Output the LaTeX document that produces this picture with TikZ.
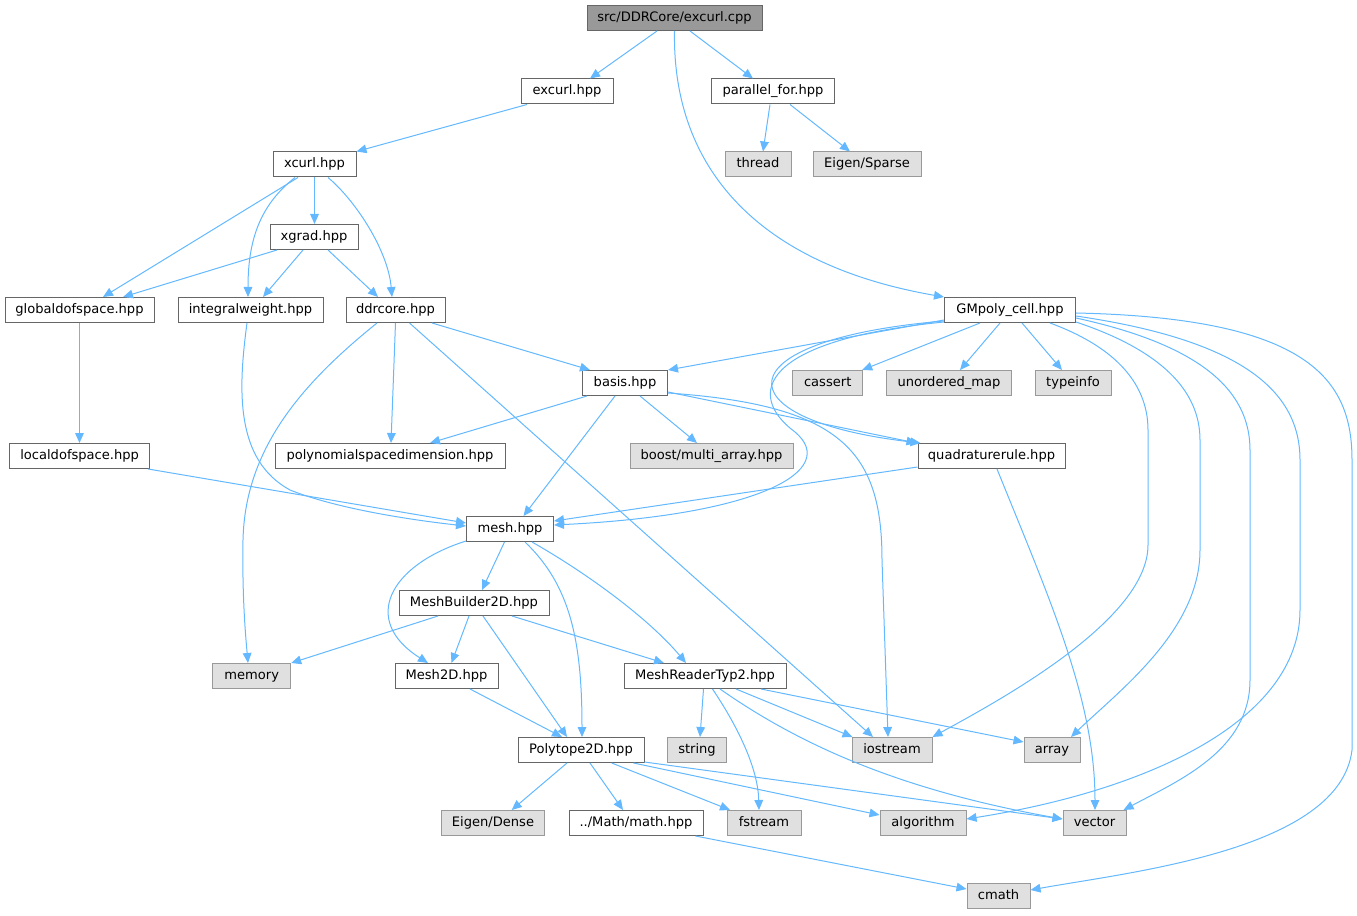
\documentclass[tikz,border=0pt]{standalone}
\usepackage{fontspec}
\setmainfont{DejaVu Sans}
\usetikzlibrary{arrows.meta,calc}
\definecolor{edgec}{HTML}{63B8FF}
\definecolor{bordc}{HTML}{666666}
\definecolor{extb}{HTML}{999999}
\definecolor{extf}{HTML}{E0E0E0}
\definecolor{rootf}{HTML}{999999}
\tikzset{
  nd/.style={draw=bordc, fill=white, line width=0.75pt, rectangle, inner sep=0pt,
    minimum height=25*0.75pt, text height=7.3pt, text depth=2.2pt,
    font=\fontsize{9.8}{12}\selectfont},
  ext/.style={nd, draw=extb, fill=extf},
  rootnd/.style={nd, fill=rootf},
  w/.style={minimum width=#1*0.75pt},
  e/.style={draw=edgec, line width=0.75pt, -{Triangle[length=7.5pt,width=6.5pt]}}
}
\begin{document}
\begin{tikzpicture}[x=0.75pt,y=-0.75pt]
\useasboundingbox (0,0) rectangle (1357,916);
% nodes
\node[rootnd, w=175] (root) at (674.5,18) {src/DDRCore/excurl.cpp};
\node[nd, w=92] (excurl) at (567,91.5) {excurl.hpp};
\node[nd, w=123] (parfor) at (773,91.5) {parallel\_for.hpp};
\node[ext, w=66] (thread) at (758,164.5) {thread};
\node[ext, w=108] (esparse) at (867,164.5) {Eigen/Sparse};
\node[nd, w=83] (xcurl) at (314.5,164.5) {xcurl.hpp};
\node[nd, w=88] (xgrad) at (314,237) {xgrad.hpp};
\node[nd, w=149] (gdof) at (79.5,310) {globaldofspace.hpp};
\node[nd, w=145] (iw) at (250.5,310) {integralweight.hpp};
\node[nd, w=99] (ddr) at (395.5,310) {ddrcore.hpp};
\node[nd, w=131] (gmp) at (1010,310) {GMpoly\_cell.hpp};
\node[nd, w=85] (basis) at (625,383) {basis.hpp};
\node[ext, w=70] (cassert) at (827.7,383) {cassert};
\node[ext, w=125] (umap) at (949,383) {unordered\_map};
\node[ext, w=76] (tinfo) at (1073,383) {typeinfo};
\node[nd, w=140] (ldof) at (79.6,456) {localdofspace.hpp};
\node[nd, w=230] (psd) at (390,456) {polynomialspacedimension.hpp};
\node[ext, w=163] (boost) at (711.5,456) {boost/multi\_array.hpp};
\node[nd, w=147] (quad) at (991.5,456) {quadraturerule.hpp};
\node[nd, w=87] (mesh) at (510,529) {mesh.hpp};
\node[nd, w=150] (mb) at (474,603) {MeshBuilder2D.hpp};
\node[ext, w=78] (memory) at (251.7,676) {memory};
\node[nd, w=103] (m2d) at (446.5,676) {Mesh2D.hpp};
\node[nd, w=162] (mr) at (705,676) {MeshReaderTyp2.hpp};
\node[nd, w=126] (poly) at (581,750) {Polytope2D.hpp};
\node[ext, w=59] (string) at (697,750) {string};
\node[ext, w=80] (iostream) at (892,750) {iostream};
\node[ext, w=56] (array) at (1052,750) {array};
\node[ext, w=103] (edense) at (493,823) {Eigen/Dense};
\node[nd, w=134] (math) at (636,823) {../Math/math.hpp};
\node[ext, w=74] (fstream) at (764,823) {fstream};
\node[ext, w=86] (algo) at (923,823) {algorithm};
\node[ext, w=63] (vector) at (1094.5,823) {vector};
\node[ext, w=63] (cmath) at (998.5,896) {cmath};
% edges
\draw[e] ($(root.south)+(-17.5,0)$) -- ($(excurl.north)+(23,0)$);
\draw[e] ($(root.south)+(15.5,0)$) -- ($(parfor.north)+(-20,0)$);
\draw[e] (root.south) .. controls (672,170) and (760,265) .. (gmp.north west);
\draw[e] ($(excurl.south)+(-40,0)$) -- (xcurl.north east);
\draw[e] ($(parfor.south)+(-3,0)$) -- ($(thread.north)+(5,0)$);
\draw[e] ($(parfor.south)+(17,0)$) -- ($(esparse.north)+(-17,0)$);
\draw[e] (xcurl.south) -- (xcurl.south |- xgrad.north);
\draw[e] ($(xcurl.south)+(-16.5,0)$) -- ($(gdof.north)+(23.5,0)$);
\draw[e] ($(xcurl.south)+(-19.5,0)$) .. controls (260,205) and (248,240) .. ($(iw.north)+(-2.5,0)$);
\draw[e] ($(xcurl.south)+(13.5,0)$) .. controls (355,200) and (388,250) .. ($(ddr.north)+(-3.5,0)$);
\draw[e] ($(xgrad.south)+(-37,0)$) -- ($(gdof.north)+(43.5,0)$);
\draw[e] ($(xgrad.south)+(-11,0)$) -- ($(iw.north)+(12.5,0)$);
\draw[e] ($(xgrad.south)+(14,0)$) -- ($(ddr.north)+(-17.5,0)$);
\draw[e] (gdof.south) -- (gdof.south |- ldof.north);
\draw[e] ($(iw.south)+(-3.5,0)$) .. controls (238,390) and (235,460) .. (290,490) .. controls (340,510) and (420,521) .. ($(mesh.west)+(0,-3)$);
\draw[e] ($(ldof.south east)+(-2,0)$) -- ($(mesh.west)+(0,-6)$);
\draw[e] ($(ddr.south)+(-18.5,0)$) .. controls (300,385) and (245,450) .. (243,540) .. controls (242,600) and (246,640) .. ($(memory.north)+(-3.7,0)$);
\draw[e] (ddr.south) -- ($(psd.north)+(1,0)$);
\draw[e] ($(ddr.south)+(14,0)$) -- ($(iostream.north)+(-19,0)$);
\draw[e] ($(ddr.south)+(36.5,0)$) -- ($(basis.north)+(-35,0)$);
\draw[e] ($(gmp.south west)+(0,-3)$) -- (basis.north east);
\draw[e] ($(gmp.south)+(-30,0)$) -- ($(cassert.north east)+(-1,0)$);
\draw[e] ($(gmp.south)+(-10,0)$) -- ($(umap.north)+(11,0)$);
\draw[e] ($(gmp.south)+(12,0)$) -- ($(tinfo.north)+(-11,0)$);
\draw[e] ($(gmp.south west)+(0,-2)$) .. controls (720,340) and (720,420) .. ($(quad.north west)+(3,0)$);
\draw[e] ($(basis.south east)+(0,-4)$) -- ($(quad.north west)+(-1,0)$);
\draw[e] ($(basis.south east)+(0,-3)$) .. controls (840,405) and (882,450) .. (882,560) -- ($(iostream.north)+(-4,0)$);
\draw[e] ($(basis.south)+(-10,0)$) -- ($(mesh.north)+(13.5,0)$);
\draw[e] ($(basis.south)+(-38,0)$) -- ($(psd.north)+(40,0)$);
\draw[e] ($(basis.south)+(15,0)$) -- ($(boost.north)+(-14.5,0)$);
\draw[e] ($(gmp.south west)+(0,-1)$) .. controls (760,340) and (745,395) .. (795,432) .. controls (840,470) and (760,515) .. ($(mesh.east)+(0,-4)$);
\draw[e] ($(quad.south west)+(0,-2)$) -- ($(mesh.east)+(0,-8)$);
\draw[e] ($(quad.south)+(5.5,0)$) .. controls (1050,600) and (1095,700) .. ($(vector.north)+(0.5,0)$);
\draw[e] ($(gmp.south)+(40,0)$) .. controls (1110,345) and (1148,380) .. (1148,430) -- (1148,545) .. controls (1148,620) and (1000,700) .. (iostream.north east);
\draw[e] ($(gmp.south east)+(0,-1)$) .. controls (1160,350) and (1200,390) .. (1200,440) -- (1200,550) .. controls (1200,630) and (1120,690) .. ($(array.north)+(19,0)$);
\draw[e] ($(gmp.east)+(0,8)$) .. controls (1200,345) and (1250,390) .. (1250,450) -- (1250,680) .. controls (1250,750) and (1180,780) .. ($(vector.north east)+(-3,0)$);
\draw[e] ($(gmp.east)+(0,6)$) .. controls (1240,340) and (1300,390) .. (1300,460) -- (1300,610) .. controls (1300,720) and (1150,790) .. ($(algo.east)+(0,-4)$);
\draw[e] ($(gmp.east)+(0,3)$) .. controls (1310,318) and (1352,380) .. (1352,460) -- (1352,750) .. controls (1340,850) and (1130,872) .. ($(cmath.east)+(0,-6)$);
\draw[e] ($(mesh.south)+(-5.5,0)$) -- ($(mb.north)+(8,0)$);
\draw[e] ($(mesh.south west)+(0,-1)$) .. controls (390,565) and (360,620) .. ($(m2d.north)+(-18.5,0)$);
\draw[e] ($(mesh.south)+(15,0)$) .. controls (570,585) and (582,640) .. ($(poly.north)+(1,0)$);
\draw[e] ($(mesh.south)+(22,0)$) .. controls (590,575) and (650,620) .. ($(mr.north)+(-19,0)$);
\draw[e] ($(mb.south)+(-36,0)$) -- (memory.north east);
\draw[e] ($(mb.south)+(-5,0)$) -- ($(m2d.north)+(5,0)$);
\draw[e] ($(mb.south)+(9,0)$) -- ($(poly.north)+(-14,0)$);
\draw[e] ($(mb.south)+(38,0)$) -- ($(mr.north)+(-41,0)$);
\draw[e] ($(m2d.south)+(23.5,0)$) -- ($(poly.north)+(-19,0)$);
\draw[e] ($(mr.south)+(-1.5,0)$) -- ($(string.north)+(3,0)$);
\draw[e] ($(mr.south)+(7.5,0)$) .. controls (740,730) and (758,770) .. ($(fstream.north)+(-5,0)$);
\draw[e] ($(mr.south)+(31,0)$) -- ($(iostream.north west)+(1,0)$);
\draw[e] ($(mr.south)+(56,0)$) -- ($(array.west)+(0,-8)$);
\draw[e] ($(mr.south)+(15,0)$) .. controls (800,745) and (900,790) .. ($(vector.west)+(0,-4)$);
\draw[e] ($(poly.south)+(-14,0)$) -- ($(edense.north)+(18.7,0)$);
\draw[e] ($(poly.south)+(9,0)$) -- ($(math.north)+(-13,0)$);
\draw[e] ($(poly.south)+(30.7,0)$) -- ($(fstream.north)+(-34,0)$);
\draw[e] ($(poly.south east)+(-11,0)$) -- ($(algo.west)+(0,-8)$);
\draw[e] ($(poly.south east)+(0,-1)$) -- ($(vector.west)+(0,-4)$);
\draw[e] ($(math.south east)+(-8,0)$) -- ($(cmath.west)+(0,-7)$);
\end{tikzpicture}
\end{document}
